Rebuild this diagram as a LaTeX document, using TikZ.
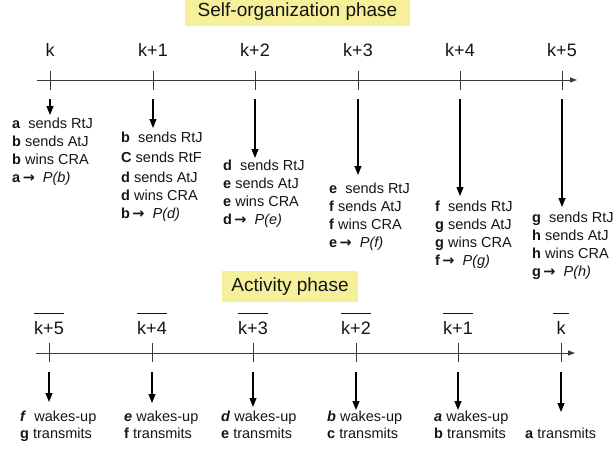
\documentclass[tikz,border=0pt]{standalone}
\usepackage{fontspec}
\setmainfont{Liberation Sans}
\newfontfamily\symfont{DejaVu Sans}
\usetikzlibrary{arrows.meta}
\definecolor{phaseyellow}{HTML}{F6F09A}
\definecolor{axisgray}{HTML}{3A3A3A}
\definecolor{inkblack}{HTML}{151515}
\newcommand{\goesto}{{\symfont\bfseries →}}
\newcommand{\who}[1]{\textbf{#1}}
\newcommand{\wakes}[1]{\textbf{\textit{#1}}}
\begin{document}
\begin{tikzpicture}[x=1pt,y=-1pt,
  phasebox/.style={fill=phaseyellow, draw=none, inner sep=0pt, text=inkblack,
    font=\fontsize{19}{22}\selectfont},
  axis/.style={draw=axisgray, line width=0.9pt, -{Triangle[length=7pt,width=5pt]}},
  tickmark/.style={draw=axisgray, line width=0.9pt},
  down/.style={draw=black, line width=1.1pt, -{Triangle[length=9pt,width=7pt]}},
  steplabel/.style={font=\fontsize{18}{20}\selectfont, inner sep=0pt, text=inkblack},
  barline/.style={draw=inkblack, line width=0.9pt},
  events/.style={anchor=north west, inner sep=0pt, align=left, text=inkblack,
    font=\fontsize{14.5}{18}\selectfont},
  wakeups/.style={anchor=north west, inner sep=0pt, align=left, text=inkblack,
    font=\fontsize{14.5}{16.5}\selectfont},
]
\useasboundingbox (0,0) rectangle (614,450);

% ---------------- Self-organization phase ----------------
\node[phasebox, minimum width=225pt, minimum height=28pt] (selforg) at (297.5,12) {Self-organization phase};

\coordinate (ta) at (37,80);
\coordinate (tb) at (577,80);
\draw[axis] (ta) -- (tb);

\foreach \i/\x/\lab/\e in {0/50/k/115, 1/153/k+1/128, 2/255/k+2/158, 3/358/k+3/175, 4/460/k+4/196, 5/562/k+5/207} {
  \coordinate (tt\i) at (\x,71);
  \coordinate (tu\i) at (\x,90);
  \draw[tickmark] (tt\i) -- (tu\i);
  \node[steplabel] (tl\i) at (\x,50) {\lab};
  \coordinate (ts\i) at (\x,99);
  \coordinate (te\i) at (\x,\e);
  \draw[down] (ts\i) -- (te\i);
}

\node[events] (ev0) at (12,118) {\who{a}\ \ sends RtJ\\ \who{b} sends AtJ\\ \who{b} wins CRA\\ \who{a}\,\goesto\ \ \textit{P(b)}};
\node[events] (ev1) at (121,132) {\who{b}\ \ sends RtJ\\[2pt] \who{C} sends RtF\\[2pt] \who{d} sends AtJ\\ \who{d} wins CRA\\ \who{b}\,\goesto\ \ \textit{P(d)}};
\node[events] (ev2) at (223,160) {\who{d}\ \ sends RtJ\\ \who{e} sends AtJ\\ \who{e} wins CRA\\ \who{d}\,\goesto\ \ \textit{P(e)}};
\node[events] (ev3) at (329,183) {\who{e}\ \ sends RtJ\\ \who{f} sends AtJ\\ \who{f} wins CRA\\ \who{e}\,\goesto\ \ \textit{P(f)}};
\node[events] (ev4) at (435,201) {\who{f}\ \ sends RtJ\\ \who{g} sends AtJ\\ \who{g} wins CRA\\ \who{f}\,\goesto\ \ \textit{P(g)}};
\node[events] (ev5) at (532,212) {\who{g}\ \ sends RtJ\\ \who{h} sends AtJ\\ \who{h} wins CRA\\ \who{g}\,\goesto\ \ \textit{P(h)}};

% ---------------- Activity phase ----------------
\node[phasebox, minimum width=136pt, minimum height=31pt] (activity) at (290,286.5) {Activity phase};

\coordinate (ba) at (36,353);
\coordinate (bb) at (575,353);
\draw[axis] (ba) -- (bb);

\foreach \i/\x/\lab/\e in {0/49/k+5/402, 1/152/k+4/403, 2/253/k+3/407, 3/356/k+2/410, 4/458/k+1/410, 5/561/k/412} {
  \coordinate (bt\i) at (\x,343);
  \coordinate (bu\i) at (\x,362);
  \draw[tickmark] (bt\i) -- (bu\i);
  \node[steplabel] (bl\i) at (\x,328) {\lab};
  \coordinate (bs\i) at (\x,372);
  \coordinate (be\i) at (\x,\e);
  \draw[down] (bs\i) -- (be\i);
}
\foreach \i in {0,...,4} {
  \draw[barline] ([yshift=8pt]bl\i.north west) -- ([yshift=8pt]bl\i.north east);
}
\draw[barline] ([xshift=-3pt,yshift=8pt]bl5.north west) -- ([xshift=3pt,yshift=8pt]bl5.north east);

\node[wakeups] (wk0) at (20,411) {\wakes{f}\ \ wakes-up\\ \who{g} transmits};
\node[wakeups] (wk1) at (124,411) {\wakes{e} wakes-up\\ \who{f} transmits};
\node[wakeups] (wk2) at (221,411) {\wakes{d} wakes-up\\ \who{e} transmits};
\node[wakeups] (wk3) at (327,411) {\wakes{b} wakes-up\\ \who{c} transmits};
\node[wakeups] (wk4) at (434,411) {\wakes{a} wakes-up\\ \who{b} transmits};
\node[wakeups] (wk5) at (525,428) {\who{a} transmits};
\end{tikzpicture}
\end{document}
